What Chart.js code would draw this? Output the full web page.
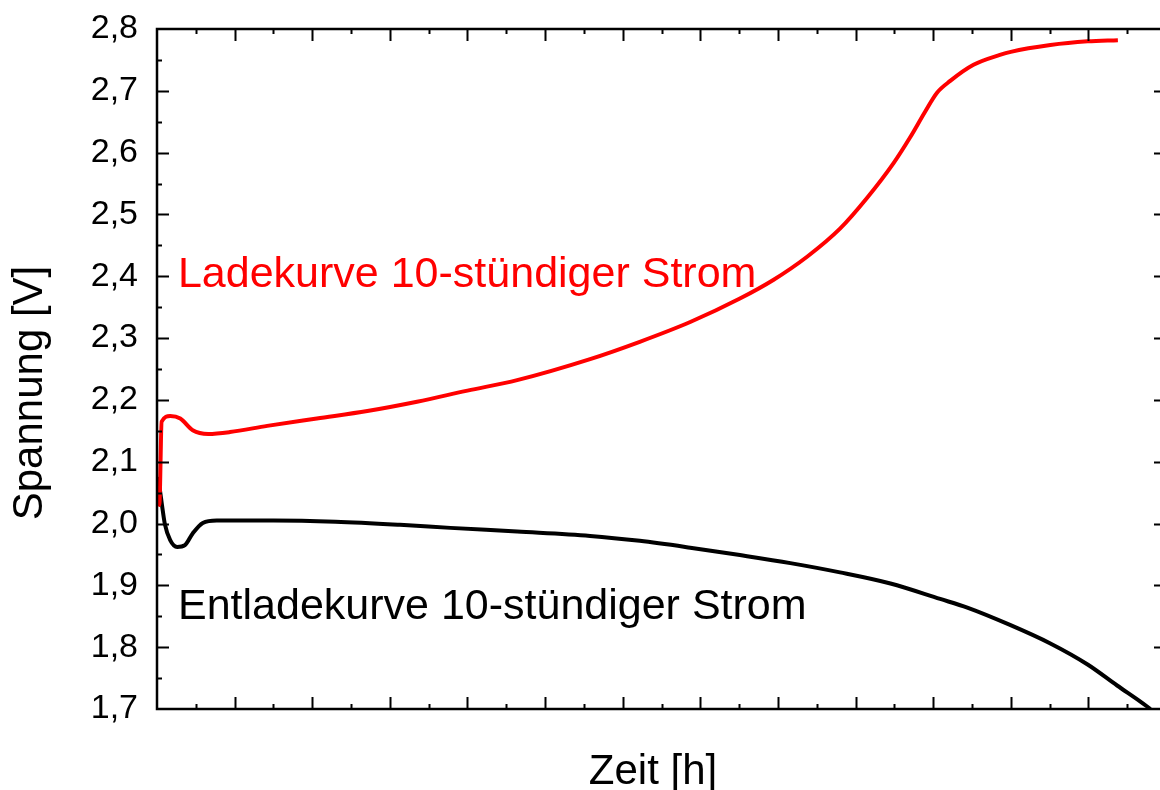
<!DOCTYPE html>
<html>
<head>
<meta charset="utf-8">
<script src="https://cdn.jsdelivr.net/npm/chart.js@4"></script>
<style>
  html, body { margin: 0; padding: 0; background: #fff; overflow: hidden; }
  canvas { display: block; }
</style>
</head>
<body>
<canvas id="chart" width="1172" height="790"></canvas>
<script>
// Ladekurve (charge), time in axis units (major tick = 1)
const chargeTime = [0, 0.03, 0.06, 0.17, 0.30, 0.46, 0.66, 0.94, 1.42, 2.06, 2.71, 3.35, 4.00, 4.64, 5.58, 6.22, 6.87, 7.51, 7.94, 8.38, 8.80, 9.15, 9.49, 9.70, 9.90, 10.05, 10.22, 10.52, 10.86, 11.00, 11.51, 11.99, 12.38];
const chargeVolt = [2.06, 2.03, 2.165, 2.174, 2.170, 2.151, 2.145, 2.148, 2.158, 2.170, 2.182, 2.197, 2.215, 2.232, 2.266, 2.294, 2.326, 2.364, 2.394, 2.432, 2.477, 2.527, 2.583, 2.624, 2.667, 2.697, 2.716, 2.742, 2.758, 2.763, 2.774, 2.780, 2.782];

// Entladekurve (discharge)
const dischargeTime = [0, 0.03, 0.064, 0.10, 0.17, 0.26, 0.36, 0.46, 0.59, 0.77, 1.50, 2.30, 3.13, 3.78, 4.64, 5.58, 6.22, 6.87, 7.51, 8.16, 8.80, 9.45, 10.09, 10.44, 10.99, 11.51, 11.99, 12.37, 12.67, 12.80];
const dischargeVolt = [2.075, 2.06, 2.03, 2.0, 1.973, 1.962, 1.965, 1.984, 2.001, 2.005, 2.005, 2.003, 1.998, 1.993, 1.987, 1.980, 1.972, 1.961, 1.949, 1.936, 1.921, 1.903, 1.878, 1.864, 1.836, 1.806, 1.772, 1.738, 1.712, 1.700];

const yTicks = [1.7, 1.8, 1.9, 2.0, 2.1, 2.2, 2.3, 2.4, 2.5, 2.6, 2.7, 2.8];
const curveLabels = ['Ladekurve 10-stündiger Strom', 'Entladekurve 10-stündiger Strom'];
const xTitle = 'Zeit [h]';
const yTitle = 'Spannung [V]';

const FONT = '"Liberation Sans", Arial, sans-serif';

function toPoints(xs, ys) {
    return xs.map((x, i) => ({ x: x, y: ys[i] }));
}

// frame with inward ticks on all four sides, axis titles and curve captions
const framePlugin = {
    id: 'frame',
    afterDraw(chart) {
        const { ctx, chartArea: a, scales: { x, y } } = chart;
        ctx.save();
        ctx.strokeStyle = '#000';
        ctx.lineWidth = 2.5;
        ctx.strokeRect(a.left, a.top, a.right - a.left, a.bottom - a.top);

        ctx.lineWidth = 2;
        ctx.beginPath();
        for (let v = 0.5; v < 13; v += 0.5) {
            const px = Math.round(x.getPixelForValue(v)) + 0.5;
            const len = Number.isInteger(v) ? 12 : 5;
            ctx.moveTo(px, a.bottom); ctx.lineTo(px, a.bottom - len);
            ctx.moveTo(px, a.top); ctx.lineTo(px, a.top + len);
        }
        for (let i = 1; i < 22; i++) {
            const v = 1.7 + i * 0.05;
            const py = Math.round(y.getPixelForValue(v)) + 0.5;
            const len = i % 2 === 0 ? 12 : 5;
            ctx.moveTo(a.left, py); ctx.lineTo(a.left + len, py);
            ctx.moveTo(a.right, py); ctx.lineTo(a.right - len, py);
        }
        ctx.stroke();

        // axis titles
        ctx.fillStyle = '#000';
        ctx.font = '42px ' + FONT;
        ctx.textAlign = 'center';
        ctx.textBaseline = 'middle';
        ctx.fillText(xTitle, 653, 772);
        ctx.save();
        ctx.translate(30, 393);
        ctx.rotate(-Math.PI / 2);
        ctx.fillText(yTitle, 0, 0);
        ctx.restore();

        // captions
        ctx.font = '43px ' + FONT;
        ctx.textAlign = 'left';
        ctx.fillStyle = '#ff0000';
        ctx.fillText(curveLabels[0], x.getPixelForValue(0.27), y.getPixelForValue(2.402));
        ctx.fillStyle = '#000';
        ctx.fillText(curveLabels[1], x.getPixelForValue(0.27), y.getPixelForValue(1.865));
        ctx.restore();
    }
};

new Chart(document.getElementById('chart'), {
    type: 'line',
    data: {
        datasets: [{
            label: 'Ladekurve',
            data: toPoints(chargeTime, chargeVolt),
            borderColor: '#ff0000',
            borderWidth: 4,
            pointRadius: 0,
            cubicInterpolationMode: 'monotone',
            fill: false
        }, {
            label: 'Entladekurve',
            data: toPoints(dischargeTime, dischargeVolt),
            borderColor: '#000000',
            borderWidth: 4,
            pointRadius: 0,
            cubicInterpolationMode: 'monotone',
            fill: false
        }]
    },
    options: {
        responsive: false,
        animation: false,
        layout: { padding: { top: 29, right: 6, left: 0, bottom: 0 } },
        plugins: {
            legend: { display: false },
            tooltip: { enabled: false }
        },
        scales: {
            x: {
                type: 'linear',
                min: 0,
                max: 13,
                grid: { display: false, drawTicks: false },
                border: { display: false },
                ticks: { display: false },
                afterFit(scale) {
                    scale.height = 81;
                    scale.paddingLeft = 0;
                    scale.paddingRight = 0;
                }
            },
            y: {
                min: 1.7,
                max: 2.8,
                afterBuildTicks(scale) { scale.ticks = yTicks.map(v => ({ value: v })); },
                grid: { display: false, drawTicks: false },
                border: { display: false },
                ticks: {
                    color: '#000',
                    padding: 19,
                    font: { family: FONT, size: 34 },
                    callback: v => v.toFixed(1).replace('.', ',')
                },
                afterFit(scale) {
                    scale.width = 157;
                    scale.paddingTop = 0;
                    scale.paddingBottom = 0;
                }
            }
        }
    },
    plugins: [framePlugin]
});
</script>
</body>
</html>
